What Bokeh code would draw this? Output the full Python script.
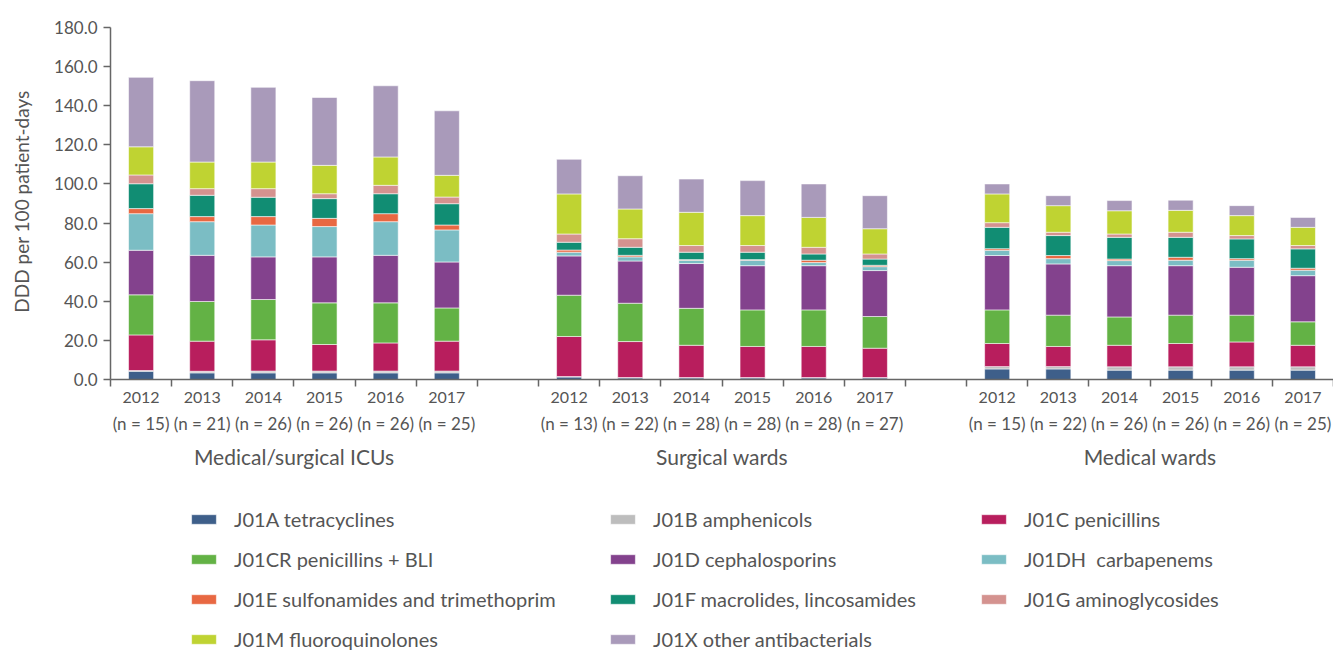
import math
from bokeh.plotting import figure
from bokeh.models import Range1d, FixedTicker, Legend, LegendItem, ColumnDataSource, LinearAxis
from bokeh.core.properties import value
from bokeh.embed import file_html
from bokeh.resources import INLINE

# Antibacterial consumption, DDD per 100 patient-days, by ward type and year
groups = ["Medical/surgical ICUs", "Surgical wards", "Medical wards"]
years = ["2012", "2013", "2014", "2015", "2016", "2017"]
n_icu = [15, 21, 26, 26, 26, 25]
n_surgical = [13, 22, 28, 28, 28, 27]
n_medical = [15, 22, 26, 26, 26, 25]

# Each series: ICU 2012-2017, surgical 2012-2017, medical 2012-2017
j01a = [4.2, 3.4, 3.4, 3.4, 3.4, 3.4,  1.3, 0.8, 0.8, 0.8, 0.8, 0.8,  5.4, 5.4, 4.8, 4.8, 4.8, 4.8]
j01b = [0.4, 0.8, 0.9, 0.9, 0.9, 0.9,  0.2, 0.2, 0.2, 0.2, 0.2, 0.2,  1.2, 1.2, 1.7, 1.7, 1.7, 1.7]
j01c = [18.2, 15.4, 16.0, 13.6, 14.4, 15.3,  20.5, 18.4, 16.5, 15.9, 15.9, 15.0,  11.8, 10.3, 11.0, 11.9, 12.7, 11.0]
j01cr = [20.5, 20.3, 20.6, 21.3, 20.5, 17.0,  21.1, 19.6, 18.9, 18.7, 18.7, 16.2,  17.2, 16.0, 14.5, 14.5, 13.7, 12.0]
j01d = [22.8, 23.6, 21.8, 23.5, 24.3, 23.5,  20.1, 21.6, 22.9, 22.6, 22.6, 23.5,  27.8, 26.2, 26.2, 25.3, 24.5, 23.6]
j01dh = [18.7, 17.2, 16.3, 15.5, 17.2, 16.4,  1.9, 2.1, 1.7, 2.8, 1.6, 2.0,  2.7, 2.7, 2.6, 2.8, 3.6, 2.8]
j01e = [2.6, 2.6, 4.3, 4.2, 4.1, 2.5,  1.1, 0.8, 0.3, 0.3, 1.2, 0.7,  0.8, 1.6, 0.8, 1.5, 0.8, 1.0]
j01f = [12.7, 10.9, 9.9, 10.1, 10.2, 10.9,  4.0, 4.1, 3.8, 3.8, 3.2, 3.2,  10.9, 10.2, 11.1, 10.2, 10.1, 9.9]
j01g = [4.5, 3.4, 4.4, 2.5, 4.3, 3.4,  4.2, 4.4, 3.4, 3.4, 3.4, 2.6,  2.4, 1.7, 1.7, 2.6, 1.7, 1.7]
j01m = [14.4, 13.6, 13.6, 14.5, 14.5, 11.1,  20.5, 15.2, 17.0, 15.3, 15.3, 12.9,  14.7, 13.6, 11.9, 11.2, 10.2, 9.3]
j01x = [35.5, 41.6, 38.2, 34.7, 36.4, 33.0,  17.7, 17.0, 17.0, 17.9, 17.1, 16.9,  5.1, 5.1, 5.2, 5.2, 5.1, 5.1]

series_keys = ["j01a", "j01b", "j01c", "j01cr", "j01d", "j01dh", "j01e", "j01f", "j01g", "j01m", "j01x"]
series_values = [j01a, j01b, j01c, j01cr, j01d, j01dh, j01e, j01f, j01g, j01m, j01x]
series_labels = [
    "J01A tetracyclines", "J01B amphenicols", "J01C penicillins",
    "J01CR penicillins + BLI", "J01D cephalosporins", "J01DH  carbapenems",
    "J01E sulfonamides and trimethoprim", "J01F macrolides, lincosamides", "J01G aminoglycosides",
    "J01M fluoroquinolones", "J01X other antibacterials",
]
colors = ["#3e5f8a", "#bdbdbd", "#b81e5d", "#63b245", "#83428d", "#7bbdc4",
          "#e86842", "#118d73", "#d4928f", "#bfd332", "#a99aba"]
y_title = "DDD per 100 patient-days"

TEXT = "#555555"
AXIS = "#666666"
FONT = "Lato"

# one slot per year, with an empty slot separating the ward groups
n_years = len(years)
slot_x = [g * (n_years + 1) + i + 0.5 for g in range(len(groups)) for i in range(n_years)]
n_slots = len(groups) * (n_years + 1) - 1
n_all = n_icu + n_surgical + n_medical

# the frame covers the whole canvas; axes sit at fixed data locations inside it
W, H = 1333, 650
AXIS_LEFT_PX = 110      # canvas column of the value axis
AXIS_TOP_PX = 27        # canvas row of the 180 tick
ZERO_PX = 379           # canvas row of the 0 tick
Y_MAX = 180
px_per_unit = (ZERO_PX - AXIS_TOP_PX) / Y_MAX
px_per_slot = (W - AXIS_LEFT_PX) / n_slots


def ux(px):
    """canvas column -> x data"""
    return (px - AXIS_LEFT_PX) / px_per_slot


def uy(px):
    """canvas row -> y data"""
    return (ZERO_PX - px) / px_per_unit


data = {"x": slot_x}
for k, v in zip(series_keys, series_values):
    data[k] = v
source = ColumnDataSource(data)

p = figure(width=W, height=H, output_backend="svg", toolbar_location=None,
           x_range=Range1d(ux(0), ux(W)), y_range=Range1d(uy(H), uy(0)),
           min_border_left=0, min_border_right=0, min_border_top=0, min_border_bottom=0,
           x_axis_location=None, y_axis_location=None)
p.outline_line_color = None
p.xgrid.visible = False
p.ygrid.visible = False

renderers = p.vbar_stack(series_keys, x="x", width=0.41, source=source, color=colors,
                         line_color="white", line_width=0.7, line_alpha=0.8)

# value axis, drawn over 0-180 only
yax = LinearAxis(fixed_location=0, bounds=(0, Y_MAX),
                 ticker=FixedTicker(ticks=list(range(0, Y_MAX + 1, 20))),
                 major_label_overrides={t: f"{t:.1f}" for t in range(0, Y_MAX + 1, 20)},
                 major_label_text_font=FONT, major_label_text_font_size="17px",
                 major_label_text_color=TEXT, major_label_standoff=6,
                 axis_line_color=AXIS, axis_line_width=1.5,
                 major_tick_line_color=AXIS, major_tick_line_width=1.5,
                 major_tick_out=7, major_tick_in=0, minor_tick_line_color=None)
p.add_layout(yax, "left")

# category baseline with slot boundaries as ticks
xax = LinearAxis(fixed_location=0, bounds=(0, n_slots),
                 ticker=FixedTicker(ticks=list(range(n_slots + 1))),
                 major_label_overrides={t: "" for t in range(n_slots + 1)},
                 axis_line_color=AXIS, axis_line_width=1.5,
                 major_tick_line_color=AXIS, major_tick_line_width=1.5,
                 major_tick_out=7, major_tick_in=0, minor_tick_line_color=None,
                 major_label_text_font_size="0px")
p.add_layout(xax, "below")

# value axis title
p.text(x=[ux(21)], y=[uy(201)], text=[y_title], angle=math.pi / 2, text_align="center",
       text_baseline="middle", text_font=value(FONT), text_font_size="19px", text_color=TEXT)

# year and hospital-count labels under each bar, ward-type names under each group
text_kw = dict(text_align="center", text_baseline="middle", text_font=value(FONT),
               text_color=TEXT)
p.text(x=slot_x, y=[uy(397)] * len(slot_x), text=years * len(groups),
       text_font_size="16px", **text_kw)
p.text(x=slot_x, y=[uy(423)] * len(slot_x), text=[f"(n = {n})" for n in n_all],
       text_font_size="17px", **text_kw)
p.text(x=[g * (n_years + 1) + n_years / 2 for g in range(len(groups))],
       y=[uy(456)] * len(groups), text=groups, text_font_size="21px", **text_kw)

# legend: three columns, filled row by row
col_x = [188, 607, 978]
for c in range(3):
    idx = list(range(c, len(series_keys), 3))
    items = [LegendItem(label=series_labels[j], renderers=[renderers[j]]) for j in idx]
    rows = len(idx)
    leg = Legend(items=items, location=(col_x[c], -1 + (4 - rows) * 40),
                 orientation="vertical", padding=0, margin=0, spacing=16,
                 glyph_width=31, glyph_height=12, label_height=22, label_standoff=15,
                 label_text_font=FONT, label_text_font_size="20px", label_text_color=TEXT,
                 border_line_color=None, background_fill_alpha=0)
    p.add_layout(leg)

open("out.html", "w").write(file_html(p, INLINE))
